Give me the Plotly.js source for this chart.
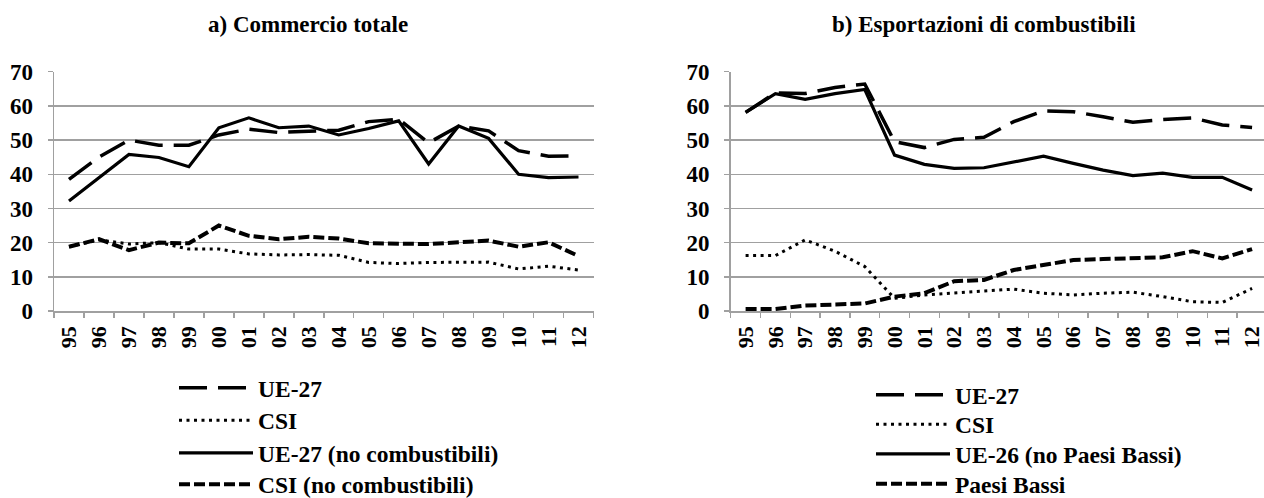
<!DOCTYPE html>
<html>
<head>
<meta charset="utf-8">
<script src="https://cdn.plot.ly/plotly-3.0.1.min.js"></script>
<style>
  html, body { margin: 0; padding: 0; background: #ffffff; }
  #chart { width: 1264px; height: 498px; }
</style>
</head>
<body>
<div id="chart"></div>
<script>
// Categories (years)
const years = ['95','96','97','98','99','00','01','02','03','04','05','06','07','08','09','10','11','12'];

// a) Commercio totale
const ue27_a   = [38.5, 45, 50, 48.5, 48.5, 51.5, 53.2, 52.2, 52.6, 52.9, 55.4, 56.1, 49.2, 54.1, 52.7, 46.9, 45.3, 45.4];
const csi_a    = [18.8, 20.8, 19.6, 20, 18.1, 18.1, 16.7, 16.4, 16.5, 16.3, 14.2, 13.9, 14.2, 14.3, 14.3, 12.3, 13.1, 12];
const ue27nc_a = [32.2, 39, 45.8, 44.9, 42.2, 53.6, 56.5, 53.6, 54.1, 51.5, 53.4, 55.6, 43, 54.1, 50.5, 40, 39, 39.2];
const csinc_a  = [18.8, 21, 17.8, 20, 19.8, 25, 22, 21, 21.7, 21.2, 19.8, 19.6, 19.6, 20.1, 20.6, 18.8, 20.1, 16.1];

// b) Esportazioni di combustibili
const ue27_b = [58.1, 63.8, 63.6, 65.4, 66.4, 49.5, 47.8, 50.2, 50.8, 55.4, 58.5, 58.3, 56.8, 55.2, 56, 56.5, 54.4, 53.7];
const csi_b  = [16.2, 16.2, 20.8, 17.5, 13, 3.7, 4.7, 5.2, 5.7, 6.4, 5.2, 4.7, 5.2, 5.5, 4.2, 2.7, 2.5, 6.6];
const ue26_b = [58.1, 63.6, 61.9, 63.6, 64.8, 45.6, 42.9, 41.7, 41.9, 43.5, 45.3, 43.2, 41.2, 39.6, 40.3, 39.1, 39.1, 35.4];
const nl_b   = [0.6, 0.6, 1.6, 2, 2.2, 4.2, 5.2, 8.7, 9.1, 12, 13.5, 14.9, 15.2, 15.5, 15.7, 17.5, 15.4, 18.1];

// Titles and labels
const titleA = 'a) Commercio totale';
const titleB = 'b) Esportazioni di combustibili';
const namesA = ['UE-27', 'CSI', 'UE-27 (no combustibili)', 'CSI (no combustibili)'];
const namesB = ['UE-27', 'CSI', 'UE-26 (no Paesi Bassi)', 'Paesi Bassi'];

const W = 1264, H = 498;
const px = v => v / W;
const py = v => (H - v) / H;

const LONG = {color: '#000', width: 3.5, dash: '28px,11px'};
const DOT  = {color: '#000', width: 3, dash: '3px,4.5px'};
const SOLID = {color: '#000', width: 3.2};
const SHORT = {color: '#000', width: 4, dash: '11px,4px'};

function tr(y, name, line, xa, ya, leg) {
  return {x: years, y: y, name: name, type: 'scatter', mode: 'lines', line: line,
          xaxis: xa, yaxis: ya, legend: leg, hoverinfo: 'skip'};
}

const data = [
  tr(ue27_a, namesA[0], LONG, 'x', 'y', 'legend'),
  tr(csi_a, namesA[1], DOT, 'x', 'y', 'legend2'),
  tr(ue27nc_a, namesA[2], SOLID, 'x', 'y', 'legend3'),
  tr(csinc_a, namesA[3], SHORT, 'x', 'y', 'legend4'),
  tr(ue27_b, namesB[0], LONG, 'x2', 'y2', 'legend5'),
  tr(csi_b, namesB[1], DOT, 'x2', 'y2', 'legend6'),
  tr(ue26_b, namesB[2], SOLID, 'x2', 'y2', 'legend7'),
  tr(nl_b, namesB[3], SHORT, 'x2', 'y2', 'legend8')
];

const GRID = '#a0a0a0';
const SERIF = "'Liberation Serif', 'DejaVu Serif', serif";
const tickFont = {family: SERIF, size: 23, color: '#000', weight: 'bold'};
const xTickFont = {family: SERIF, size: 22, color: '#000', weight: 'bold'};

function xaxis(domain, range) {
  return {domain: domain, type: 'category', range: range, showgrid: false, zeroline: false,
          showline: true, linecolor: GRID, linewidth: 1.5, ticks: 'outside', ticklen: 5,
          tickcolor: GRID, tickwidth: 1.5, tickson: 'boundaries', tickangle: -90,
          tickfont: xTickFont, ticklabelstandoff: 5, automargin: false, fixedrange: true};
}
function yaxis(domain, anchor) {
  return {domain: domain, anchor: anchor, range: [0, 70], dtick: 10, tick0: 0, showgrid: true,
          gridcolor: GRID, gridwidth: 1.5, zeroline: false, showline: true, linecolor: GRID,
          linewidth: 1.5, ticks: 'outside', ticklen: 5, tickcolor: GRID, tickwidth: 1.5,
          tickfont: tickFont, ticklabelstandoff: 10, automargin: false, fixedrange: true};
}

const yDom = [py(311), py(71.7)];
const legFont = {family: SERIF, size: 23.5, color: '#000', weight: 'bold'};
const titleFont = {family: SERIF, size: 23, color: '#000', weight: 'bold'};

function leg(xLeft, rowCenter) {
  return {x: px(xLeft), xanchor: 'left', y: py(rowCenter - 23), yanchor: 'top', font: legFont,
          itemwidth: 74, bgcolor: 'rgba(0,0,0,0)'};
}

const layout = {
  width: W, height: H,
  margin: {l: 0, r: 0, t: 0, b: 0, autoexpand: false},
  font: {family: SERIF, color: '#000'},
  paper_bgcolor: '#fff', plot_bgcolor: '#fff',
  showlegend: true,
  xaxis: Object.assign(xaxis([px(54), px(593.5)], [-0.5, 17.5]), {anchor: 'y'}),
  yaxis: yaxis(yDom, 'x'),
  xaxis2: Object.assign(xaxis([px(730.7), 1], [-0.5, 17.4]), {anchor: 'y2'}),
  yaxis2: yaxis(yDom, 'x2'),
  legend:  leg(174, 389),
  legend2: leg(174, 421.5),
  legend3: leg(174, 454),
  legend4: leg(174, 485.5),
  legend5: leg(871, 396),
  legend6: leg(871, 425.5),
  legend7: leg(871, 455),
  legend8: leg(871, 485),
  annotations: [
    {text: titleA, xref: 'paper', yref: 'paper', x: px(308), y: py(25), xanchor: 'center', yanchor: 'middle',
     showarrow: false, font: titleFont},
    {text: titleB, xref: 'paper', yref: 'paper', x: px(984), y: py(25), xanchor: 'center', yanchor: 'middle',
     showarrow: false, font: titleFont}
  ]
};

Plotly.newPlot('chart', data, layout, {displayModeBar: false, staticPlot: true});
</script>
</body>
</html>
